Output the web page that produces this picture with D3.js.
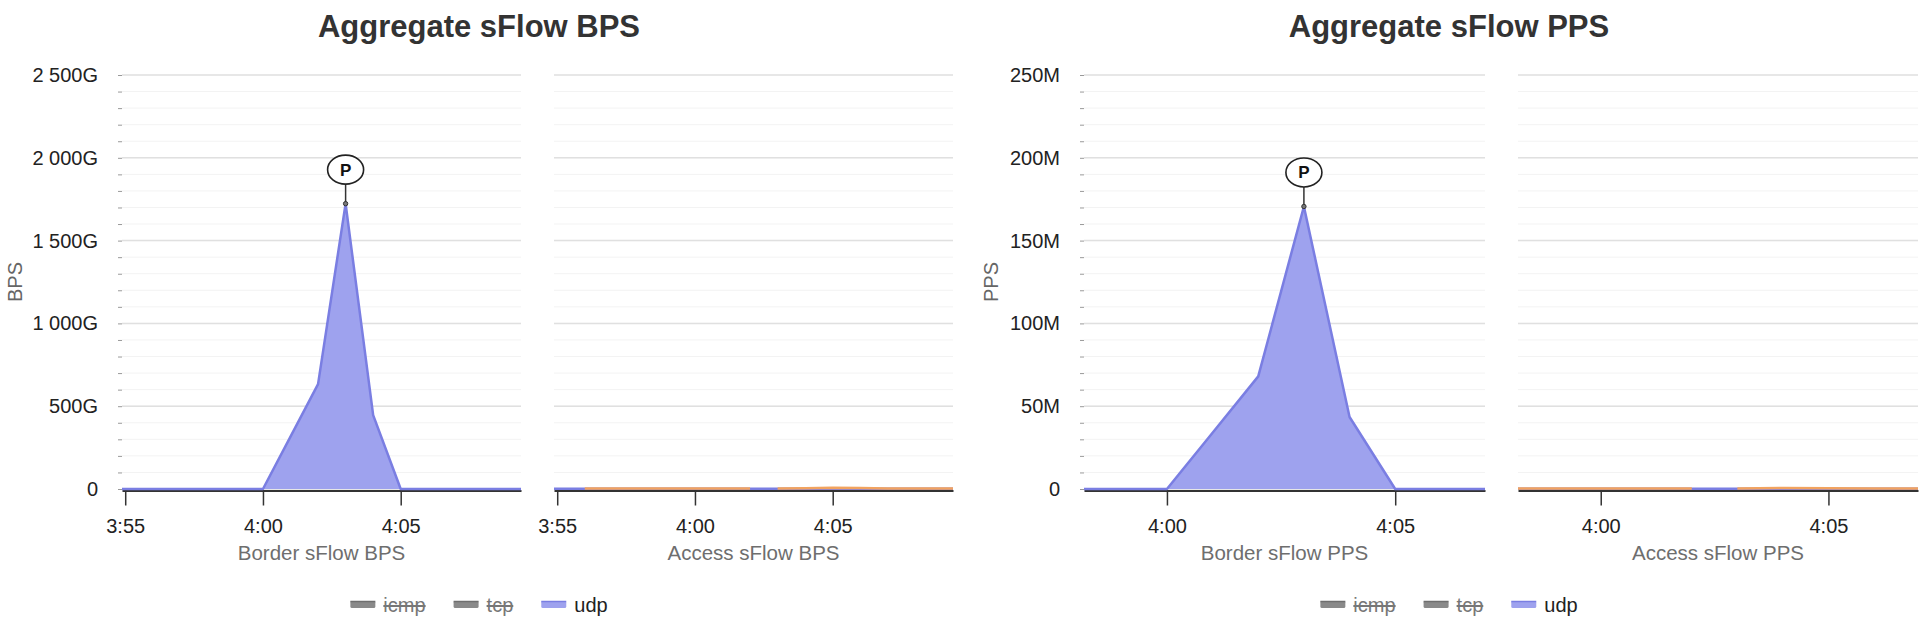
<!DOCTYPE html>
<html>
<head>
<meta charset="utf-8">
<script src="https://cdn.jsdelivr.net/npm/d3@7"></script>
<style>
  body { margin: 0; background: #fff; }
  svg text { font-family: "Liberation Sans", Arial, Helvetica, sans-serif; }
</style>
</head>
<body>
<div id="chart"></div>
<script>
// sample times (one per minute, plus a half-minute break point for the access panels)
const borderTimes = ['3:54','3:55','3:56','3:57','3:58','3:59','4:00','4:01','4:02','4:03','4:04','4:05','4:06','4:07','4:08','4:09','4:10'];
const accessTimes = ['3:54','3:55','3:56','3:57','3:58','3:59','4:00','4:01','4:02','4:02:30','4:03','4:04','4:05','4:06','4:07','4:08','4:09','4:10'];

// BPS, in G
const borderBpsUdp  = [0,0,0,0,0,0,0,316,633,1723,446,0,0,0,0,0,0];
const accessBpsUdp  = [2,2,2,2,2,2,2,2,2,2,2,2,2,2,2,2,2,2];
const accessBpsOther = [null,null,3,3,3,3,3,3,3,null,3,4,8,6,3,3,3,3];

// PPS, in M
const borderPpsUdp  = [0,0,0,0,0,0,0,34,68,170.6,43.5,0,0,0,0,0,0];
const accessPpsUdp  = [0.2,0.2,0.2,0.2,0.2,0.2,0.2,0.2,0.2,0.2,0.2,0.2,0.2,0.2,0.2,0.2,0.2,0.2];
const accessPpsOther = [null,null,0.3,0.3,0.3,0.3,0.3,0.3,0.3,null,0.3,0.6,0.5,0.3,0.3,0.3,0.3,0.3];

const legendNames  = ['icmp', 'tcp', 'udp'];
const legendHidden = [true, true, false];

const bpsDomain = ['3:54:53', '4:09:22'];
const ppsDomain = ['3:58:11', '4:06:58'];

const width = 1920;
const height = 631;

const parseT = s => d3.timeParse(s.length > 5 ? '%H:%M:%S' : '%H:%M')(s);
const udpFill = '#9ea2ee';
const udpStroke = '#7a7ee2';
const otherStroke = '#f2a35f';

const groupFmt = d3.formatLocale({ decimal: '.', thousands: ' ', grouping: [3], currency: ['', ''] }).format(',d');

const svg = d3.select('#chart')
  .append('svg')
  .attr('width', width)
  .attr('height', height);

function drawChart(cfg) {
  const top = 75, bottom = 489;
  const g = svg.append('g');

  // title
  g.append('text')
    .attr('x', cfg.center)
    .attr('y', 37)
    .attr('text-anchor', 'middle')
    .attr('font-size', 31)
    .attr('font-weight', 'bold')
    .attr('fill', '#333')
    .text(cfg.title);

  // y axis title
  g.append('text')
    .attr('transform', `translate(${cfg.yLabelX}, 282) rotate(-90)`)
    .attr('text-anchor', 'middle')
    .attr('font-size', 20)
    .attr('fill', '#666')
    .text(cfg.yLabel);

  const y = d3.scaleLinear().domain([0, cfg.yMax]).range([bottom, top]);
  const majors = d3.range(0, cfg.yMax + 1, cfg.yMax / 5);
  const minors = d3.range(0, cfg.yMax + 1, cfg.yMax / 25);
  const domain = cfg.domain.map(parseT);

  cfg.panels.forEach((p, idx) => {
    const x = d3.scaleTime().domain(domain).range([p.x0, p.x1]);
    const pg = g.append('g');

    // gridlines
    pg.selectAll('.minor').data(minors).enter().append('line')
      .attr('x1', p.x0).attr('x2', p.x1)
      .attr('y1', d => y(d)).attr('y2', d => y(d))
      .attr('stroke', '#f3f3f3').attr('stroke-width', 1);
    pg.selectAll('.major').data(majors).enter().append('line')
      .attr('x1', p.x0).attr('x2', p.x1)
      .attr('y1', d => y(d)).attr('y2', d => y(d))
      .attr('stroke', '#e0e0e0').attr('stroke-width', 1.5);

    if (idx === 0) {
      // small dashes for every minor step
      const minorAxis = d3.axisLeft(y).tickValues(minors).tickSize(4).tickFormat('');
      pg.append('g')
        .attr('transform', `translate(${p.x0}, 0)`)
        .call(minorAxis)
        .call(a => a.select('.domain').remove())
        .call(a => a.selectAll('line').attr('stroke', '#999'));

      const labelAxis = d3.axisLeft(y).tickValues(majors).tickSize(0).tickPadding(24)
        .tickFormat(d => d === 0 ? '0' : groupFmt(d) + cfg.suffix);
      pg.append('g')
        .attr('transform', `translate(${p.x0}, 0)`)
        .call(labelAxis)
        .call(a => a.select('.domain').remove())
        .call(a => a.selectAll('text').attr('font-size', 20).attr('fill', '#222'));
    }

    // x axis
    const axisX = d3.axisBottom(x)
      .ticks(d3.timeMinute.every(5))
      .tickFormat(d3.timeFormat('%-H:%M'))
      .tickSize(15)
      .tickSizeOuter(0)
      .tickPadding(13);
    pg.append('g')
      .attr('transform', `translate(0, ${bottom + 1.5})`)
      .call(axisX)
      .call(a => a.select('.domain').attr('stroke', '#333').attr('stroke-width', 2))
      .call(a => a.selectAll('.tick line').attr('stroke', '#333').attr('stroke-width', 1.5))
      .call(a => a.selectAll('text').attr('font-size', 20).attr('fill', '#222').style('font-family', '"Liberation Sans", Arial, sans-serif'));

    pg.append('text')
      .attr('x', (p.x0 + p.x1) / 2)
      .attr('y', 560)
      .attr('text-anchor', 'middle')
      .attr('font-size', 20.5)
      .attr('fill', '#6e6e6e')
      .text(p.label);

    // series, clipped to the panel
    const clipId = `clip-${cfg.id}-${idx}`;
    svg.append('clipPath').attr('id', clipId)
      .append('rect')
      .attr('x', p.x0).attr('y', 0)
      .attr('width', p.x1 - p.x0).attr('height', bottom + 4);
    const sg = pg.append('g').attr('clip-path', `url(#${clipId})`);

    const times = p.times.map(parseT);
    const udp = times.map((t, i) => ({ t, v: p.udp[i] }));
    const area = d3.area().x(d => x(d.t)).y0(y(0)).y1(d => y(d.v));
    const line = d3.line().defined(d => d.v != null).x(d => x(d.t)).y(d => y(d.v));

    sg.append('path').datum(udp)
      .attr('d', area)
      .attr('fill', udpFill);
    sg.append('path').datum(udp)
      .attr('d', line)
      .attr('fill', 'none')
      .attr('stroke', udpStroke)
      .attr('stroke-width', 2.5)
      .attr('stroke-linejoin', 'round');

    if (p.other) {
      const other = times.map((t, i) => ({ t, v: p.other[i] }));
      sg.append('path').datum(other)
        .attr('d', line)
        .attr('fill', 'none')
        .attr('stroke', otherStroke)
        .attr('stroke-width', 2.5);
    }

    // peak annotation
    if (p.peak) {
      const peak = udp.reduce((a, b) => (b.v > a.v ? b : a));
      const px = x(peak.t), py = y(peak.v);
      const cy = py - 34;
      pg.append('line')
        .attr('x1', px).attr('x2', px)
        .attr('y1', cy + 14.5).attr('y2', py)
        .attr('stroke', '#333').attr('stroke-width', 1.5);
      pg.append('circle')
        .attr('cx', px).attr('cy', py).attr('r', 2.2)
        .attr('fill', '#777').attr('stroke', '#333').attr('stroke-width', 1);
      pg.append('ellipse')
        .attr('cx', px).attr('cy', cy)
        .attr('rx', 18).attr('ry', 14.5)
        .attr('fill', '#fff').attr('stroke', '#222').attr('stroke-width', 1.6);
      pg.append('text')
        .attr('x', px).attr('y', cy + 6)
        .attr('text-anchor', 'middle')
        .attr('font-size', 17)
        .attr('font-weight', 'bold')
        .attr('fill', '#111')
        .text('P');
    }
  });

  // legend
  const lg = g.append('g');
  let cx = 0;
  legendNames.forEach((name, i) => {
    const item = lg.append('g').attr('transform', `translate(${cx}, 0)`);
    const hidden = legendHidden[i];
    item.append('rect')
      .attr('x', 0).attr('y', 601).attr('width', 25).attr('height', 7).attr('rx', 1.5)
      .attr('fill', hidden ? '#8a8a8a' : udpFill);
    item.append('line')
      .attr('x1', 0).attr('x2', 25).attr('y1', 601.5).attr('y2', 601.5)
      .attr('stroke', hidden ? '#6f6f6f' : udpStroke).attr('stroke-width', 1.5);
    const t = item.append('text')
      .attr('x', 33).attr('y', 612)
      .attr('font-size', 20)
      .attr('fill', hidden ? '#777' : '#222')
      .style('text-decoration', hidden ? 'line-through' : 'none')
      .text(name);
    cx += 33 + t.node().getComputedTextLength() + 28;
  });
  const total = cx - 28;
  lg.attr('transform', `translate(${cfg.center - total / 2}, 0)`);
}

drawChart({
  id: 'bps', title: 'Aggregate sFlow BPS', center: 479, yLabel: 'BPS', yLabelX: 22,
  yMax: 2500, suffix: 'G', domain: bpsDomain,
  panels: [
    { x0: 122, x1: 521, label: 'Border sFlow BPS', times: borderTimes, udp: borderBpsUdp, peak: true },
    { x0: 554, x1: 953, label: 'Access sFlow BPS', times: accessTimes, udp: accessBpsUdp, other: accessBpsOther }
  ]
});

drawChart({
  id: 'pps', title: 'Aggregate sFlow PPS', center: 1449, yLabel: 'PPS', yLabelX: 998,
  yMax: 250, suffix: 'M', domain: ppsDomain,
  panels: [
    { x0: 1084, x1: 1485, label: 'Border sFlow PPS', times: borderTimes, udp: borderPpsUdp, peak: true },
    { x0: 1518, x1: 1918, label: 'Access sFlow PPS', times: accessTimes, udp: accessPpsUdp, other: accessPpsOther }
  ]
});
</script>
</body>
</html>
